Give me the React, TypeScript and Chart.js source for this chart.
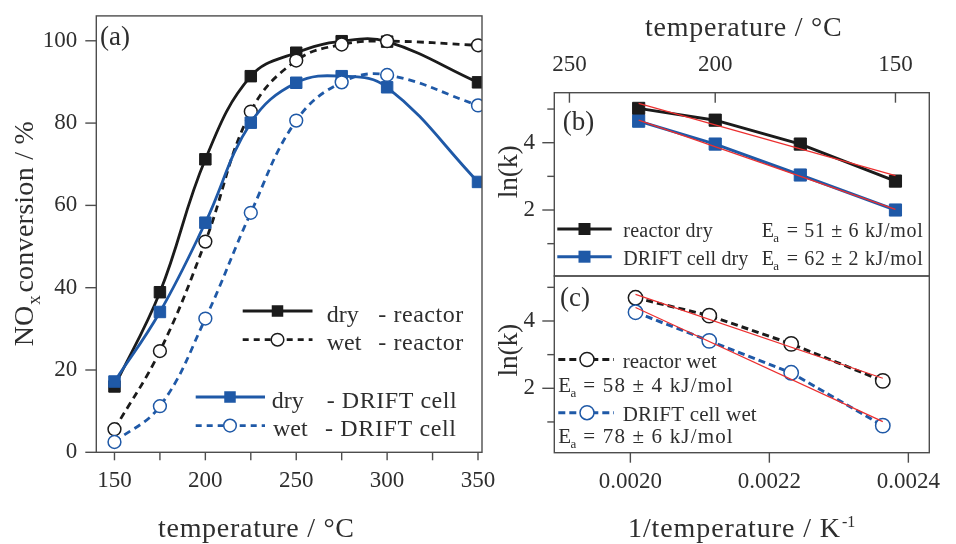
import React, { useEffect, useRef } from 'react';
import { Chart, registerables } from 'chart.js';

Chart.register(...registerables);

const FONT = '"Liberation Serif", "Times New Roman", serif';
const BLACK = '#1b1b1b';
const BLUE = '#1f59a7';
const RED = '#ec2f2f';
const AXIS = '#4d4d4d';
const TEXT = '#2e2e2e';

// ---------------- panel (a): NOx conversion vs temperature ----------------
const temperaturesA = [150, 175, 200, 225, 250, 275, 300, 350];
const dryReactor = [16.0, 38.9, 71.2, 91.4, 97.1, 99.9, 99.8, 89.9];
const wetReactor = [5.6, 24.6, 51.2, 82.8, 95.2, 99.1, 99.9, 98.9];
const dryDrift = [17.2, 34.1, 55.8, 80.1, 89.8, 91.4, 88.7, 65.7];
const wetDrift = [2.5, 11.2, 32.5, 58.2, 80.6, 89.9, 91.7, 84.3];
const xTicksA = [150, 175, 200, 225, 250, 275, 300, 325, 350];
const xLabelsA = [150, 200, 250, 300, 350];
const yTicksA = [0, 20, 40, 60, 80, 100];
const legendA = [
  ['dry', '- reactor'],
  ['wet', '- reactor'],
  ['dry', '- DRIFT cell'],
  ['wet', '- DRIFT cell'],
];

// ---------------- panels (b), (c): Arrhenius plots ----------------
const arrheniusTemps = [225, 200, 175, 150]; // °C
const lnkReactorDry = [5.02, 4.67, 3.96, 2.86];
const lnkDriftDry = [4.64, 3.96, 3.04, 2.0];
const lnkReactorWet = [4.69, 4.16, 3.32, 2.22];
const lnkDriftWet = [4.26, 3.41, 2.46, 0.89];
const fitTemps = [225, 150]; // °C, ends of the fitted lines
const fitReactorDry = [5.17, 3.02];
const fitDriftDry = [4.67, 2.02];
const fitReactorWet = [4.79, 2.3];
const fitDriftWet = [4.4, 1.01];
const topTempTicks = [250, 200, 150];
const invTempTicks = [0.002, 0.0022, 0.0024];
const lnkTicks = [1, 2, 3, 4, 5];
const lnkLabels = [2, 4];
const legendB = ['reactor dry', 'DRIFT cell dry'];
const eaB = ['= 51 ± 6 kJ/mol', '= 62 ± 2 kJ/mol'];
const legendC = ['reactor wet', 'DRIFT cell wet'];
const eaC = ['= 58 ± 4 kJ/mol', '= 78 ± 6 kJ/mol'];

// ---------------- layout ----------------
const W = 956;
const H = 544;
const A = { left: 96.3, right: 482, top: 15.9, bottom: 452.3 };
const R = { left: 554.3, right: 929.3, top: 92.7, mid: 276, bottom: 452.7 };

const invT = (c: number) => 1 / (c + 273.15);
type Pt = { x: number; y: number };
const pts = (xs: number[], ys: number[]): Pt[] => xs.map((x, i) => ({ x, y: ys[i] }));

function seg(ctx: CanvasRenderingContext2D, x1: number, y1: number, x2: number, y2: number) {
  ctx.beginPath();
  ctx.moveTo(x1, y1);
  ctx.lineTo(x2, y2);
  ctx.stroke();
}

function fitText(ctx: CanvasRenderingContext2D, text: string, x: number, y: number, size: number, width?: number) {
  ctx.font = `${size}px ${FONT}`;
  (ctx as any).letterSpacing = '0px';
  ctx.textAlign = 'left';
  ctx.textBaseline = 'alphabetic';
  if (width) {
    const w = ctx.measureText(text).width;
    const n = Array.from(text).length;
    let ls = (width - w) / Math.max(n - 1, 1);
    ls = Math.max(-1.5, Math.min(3, ls));
    (ctx as any).letterSpacing = `${ls}px`;
  }
  ctx.fillText(text, x, y);
  (ctx as any).letterSpacing = '0px';
}

function legendLine(
  ctx: CanvasRenderingContext2D,
  x1: number, x2: number, y: number, mx: number,
  color: string, marker: 'rect' | 'circle', dash: number[], size: number, lw = 3,
) {
  ctx.save();
  ctx.strokeStyle = color;
  ctx.lineWidth = lw;
  ctx.setLineDash(dash);
  seg(ctx, x1, y, x2, y);
  ctx.setLineDash([]);
  if (marker === 'rect') {
    ctx.fillStyle = color;
    ctx.fillRect(mx - size / 2, y - size / 2, size, size);
  } else {
    ctx.fillStyle = '#ffffff';
    ctx.lineWidth = 1.5;
    ctx.beginPath();
    ctx.arc(mx, y, size / 2, 0, Math.PI * 2);
    ctx.fill();
    ctx.stroke();
  }
  ctx.restore();
}

function lineDs(data: Pt[], o: { color: string; marker: 'rect' | 'circle'; r: number; dash?: number[]; order: number; tension?: number; width?: number }) {
  const filled = o.marker === 'rect';
  return {
    data,
    borderColor: o.color,
    backgroundColor: o.color,
    borderWidth: o.width ?? 3,
    borderDash: o.dash ?? [],
    tension: o.tension ?? 0,
    pointStyle: o.marker,
    pointRadius: o.r,
    pointHoverRadius: o.r,
    pointBackgroundColor: filled ? o.color : '#ffffff',
    pointBorderColor: o.color,
    pointBorderWidth: filled ? 1 : 1.5,
    order: o.order,
    clip: 0,
    fill: false,
  };
}

function fitDs(ys: number[]) {
  return {
    data: pts(fitTemps.map(invT), ys),
    borderColor: RED,
    borderWidth: 1.2,
    pointRadius: 0,
    tension: 0,
    order: 0,
    clip: 0,
    fill: false,
  };
}

const tickFont = { size: 23, family: FONT };

function configA(): any {
  return {
    type: 'line',
    data: {
      datasets: [
        lineDs(pts(temperaturesA, dryReactor), { color: BLACK, marker: 'rect', r: 8.1, order: 4, tension: 0.4, width: 2.8 }),
        lineDs(pts(temperaturesA, wetReactor), { color: BLACK, marker: 'circle', r: 6.4, dash: [7, 5], order: 3, tension: 0.4, width: 2.8 }),
        lineDs(pts(temperaturesA, dryDrift), { color: BLUE, marker: 'rect', r: 8.1, order: 2, tension: 0.4, width: 2.8 }),
        lineDs(pts(temperaturesA, wetDrift), { color: BLUE, marker: 'circle', r: 6.4, dash: [7, 5], order: 1, tension: 0.4, width: 2.8 }),
      ],
    },
    options: {
      responsive: false,
      animation: false,
      events: [],
      layout: { padding: { left: 0, top: A.top, right: W - A.right, bottom: 0 } },
      plugins: { legend: { display: false }, tooltip: { enabled: false } },
      scales: {
        x: {
          type: 'linear',
          position: 'bottom',
          min: 140.0,
          max: 352.2,
          grid: { display: false, drawTicks: false },
          border: { display: false },
          afterFit: (s: any) => { s.height = H - A.bottom; },
          afterBuildTicks: (s: any) => { s.ticks = xTicksA.map((v) => ({ value: v })); },
          ticks: {
            callback: (v: number) => (xLabelsA.includes(v) ? String(v) : ''),
            font: tickFont, color: TEXT, padding: 14.9, maxRotation: 0, autoSkip: false,
          },
        },
        y: {
          type: 'linear',
          min: 0,
          max: 101.94,
          grid: { display: false, drawTicks: false },
          border: { display: false },
          afterFit: (s: any) => { s.width = A.left; },
          afterBuildTicks: (s: any) => { s.ticks = yTicksA.map((v) => ({ value: v })); },
          ticks: { font: tickFont, color: TEXT, padding: 19, autoSkip: false },
        },
      },
    },
    plugins: [
      {
        id: 'decoA',
        afterDraw(chart: any) {
          const ctx: CanvasRenderingContext2D = chart.ctx;
          const xs = chart.scales.x;
          const ys = chart.scales.y;
          ctx.save();
          ctx.strokeStyle = AXIS;
          ctx.lineWidth = 1.4;
          ctx.strokeRect(A.left, A.top, A.right - A.left, A.bottom - A.top);
          for (const v of yTicksA) { const p = ys.getPixelForValue(v); seg(ctx, A.left - 11, p, A.left, p); }
          for (const v of xTicksA) { const p = xs.getPixelForValue(v); seg(ctx, p, A.bottom, p, A.bottom + 8); }
          ctx.fillStyle = TEXT;
          fitText(ctx, '(a)', 100, 45, 27);
          fitText(ctx, 'temperature / °C', 158, 537, 28, 196);
          ctx.save();
          ctx.translate(33, 346.3);
          ctx.rotate(-Math.PI / 2);
          fitText(ctx, 'NO', 0, 0, 28);
          fitText(ctx, 'x', 41.6, 7, 19);
          fitText(ctx, 'conversion / %', 53.7, 0, 28, 171.4);
          ctx.restore();
          // legend
          const rows = [
            { y: 311, x1: 242.7, x2: 312.5, mx: 277.5, c: BLACK, m: 'rect', d: [], t1: 326.7, t2: 378.3, w2: 85 },
            { y: 339.7, x1: 242.7, x2: 312.5, mx: 277.5, c: BLACK, m: 'circle', d: [6, 5], t1: 326.7, t2: 378.3, w2: 85 },
            { y: 397, x1: 195.7, x2: 265, mx: 230, c: BLUE, m: 'rect', d: [], t1: 271.7, t2: 326.7, w2: 130 },
            { y: 425.6, x1: 195.7, x2: 265, mx: 230, c: BLUE, m: 'circle', d: [6, 5], t1: 273, t2: 325, w2: 131 },
          ];
          rows.forEach((r, i) => {
            legendLine(ctx, r.x1, r.x2, r.y, r.mx, r.c, r.m as any, r.d, r.m === 'rect' ? 11.5 : 12.6, 2.8);
            ctx.fillStyle = TEXT;
            fitText(ctx, legendA[i][0], r.t1, r.y + 10.5, 24);
            fitText(ctx, legendA[i][1], r.t2, r.y + 10.5, 24, r.w2);
          });
          ctx.restore();
        },
      },
    ],
  };
}

function yArrhenius(min: number, max: number) {
  return {
    type: 'linear',
    min,
    max,
    grid: { display: false, drawTicks: false },
    border: { display: false },
    afterFit: (s: any) => { s.width = R.left; },
    afterBuildTicks: (s: any) => { s.ticks = lnkTicks.map((v) => ({ value: v })); },
    ticks: {
      callback: (v: number) => (lnkLabels.includes(v) ? String(v) : ''),
      font: tickFont, color: TEXT, padding: 19.3, autoSkip: false,
    },
  };
}

const X_MIN_R = 0.00189054;
const X_MAX_R = 0.00241011;

function drawYTicksR(ctx: CanvasRenderingContext2D, ys: any) {
  for (const v of lnkTicks) {
    const p = ys.getPixelForValue(v);
    const len = lnkLabels.includes(v) ? 12 : 7;
    seg(ctx, R.left - len, p, R.left, p);
  }
}

function configB(): any {
  const xs = arrheniusTemps.map(invT);
  return {
    type: 'line',
    data: {
      datasets: [
        lineDs(pts(xs, lnkReactorDry), { color: BLACK, marker: 'rect', r: 8.6, order: 2 }),
        lineDs(pts(xs, lnkDriftDry), { color: BLUE, marker: 'rect', r: 8.6, order: 1 }),
        fitDs(fitReactorDry),
        fitDs(fitDriftDry),
      ],
    },
    options: {
      responsive: false,
      animation: false,
      events: [],
      layout: { padding: { left: 0, top: 0, right: W - R.right, bottom: H - R.mid } },
      plugins: { legend: { display: false }, tooltip: { enabled: false } },
      scales: {
        x: {
          type: 'linear',
          position: 'top',
          min: X_MIN_R,
          max: X_MAX_R,
          grid: { display: false, drawTicks: false },
          border: { display: false },
          afterFit: (s: any) => { s.height = R.top; },
          afterBuildTicks: (s: any) => { s.ticks = topTempTicks.map((t) => ({ value: invT(t) })); },
          ticks: {
            callback: (v: number) => String(Math.round(1 / v - 273.15)),
            font: tickFont, color: TEXT, padding: 14.2, maxRotation: 0, autoSkip: false,
          },
        },
        y: yArrhenius(0.039, 5.486),
      },
    },
    plugins: [
      {
        id: 'decoB',
        afterDraw(chart: any) {
          const ctx: CanvasRenderingContext2D = chart.ctx;
          const xsc = chart.scales.x;
          const ys = chart.scales.y;
          ctx.save();
          ctx.strokeStyle = AXIS;
          ctx.lineWidth = 1.4;
          ctx.strokeRect(R.left, R.top, R.right - R.left, R.mid - R.top);
          for (const t of topTempTicks) { const p = xsc.getPixelForValue(invT(t)); seg(ctx, p, R.top, p, R.top + 10); }
          drawYTicksR(ctx, ys);
          ctx.fillStyle = TEXT;
          fitText(ctx, '(b)', 562.7, 130, 27);
          fitText(ctx, 'temperature / °C', 645, 35.5, 28, 196.7);
          ctx.save();
          ctx.translate(517, 198.3);
          ctx.rotate(-Math.PI / 2);
          fitText(ctx, 'ln(k)', 0, 0, 28, 53);
          ctx.restore();
          const rows = [
            { y: 229, c: BLACK },
            { y: 256.7, c: BLUE },
          ];
          rows.forEach((r, i) => {
            legendLine(ctx, 557.3, 611.7, r.y, 584.5, r.c, 'rect', [], 12, 3);
            ctx.fillStyle = TEXT;
            fitText(ctx, legendB[i], 623.3, r.y + 8, 20, i === 0 ? 89.4 : 125);
            fitText(ctx, 'E', 761.7, r.y + 8, 20);
            fitText(ctx, 'a', 773.3, r.y + 13, 13);
            fitText(ctx, eaB[i], 786.7, r.y + 8, 20, 136);
          });
          ctx.restore();
        },
      },
    ],
  };
}

function configC(): any {
  const xs = arrheniusTemps.map(invT);
  return {
    type: 'line',
    data: {
      datasets: [
        lineDs(pts(xs, lnkReactorWet), { color: BLACK, marker: 'circle', r: 7.2, dash: [7, 4], order: 2 }),
        lineDs(pts(xs, lnkDriftWet), { color: BLUE, marker: 'circle', r: 7.2, dash: [7, 4], order: 1 }),
        fitDs(fitReactorWet),
        fitDs(fitDriftWet),
      ],
    },
    options: {
      responsive: false,
      animation: false,
      events: [],
      layout: { padding: { left: 0, top: R.mid, right: W - R.right, bottom: 0 } },
      plugins: { legend: { display: false }, tooltip: { enabled: false } },
      scales: {
        x: {
          type: 'linear',
          position: 'bottom',
          min: X_MIN_R,
          max: X_MAX_R,
          grid: { display: false, drawTicks: false },
          border: { display: false },
          afterFit: (s: any) => { s.height = H - R.bottom; },
          afterBuildTicks: (s: any) => { s.ticks = invTempTicks.map((v) => ({ value: v })); },
          ticks: {
            callback: (v: number) => v.toFixed(4),
            font: tickFont, color: TEXT, padding: 15.5, maxRotation: 0, autoSkip: false,
          },
        },
        y: yArrhenius(0.086, 5.337),
      },
    },
    plugins: [
      {
        id: 'decoC',
        afterDraw(chart: any) {
          const ctx: CanvasRenderingContext2D = chart.ctx;
          const xsc = chart.scales.x;
          const ys = chart.scales.y;
          ctx.save();
          ctx.strokeStyle = AXIS;
          ctx.lineWidth = 1.4;
          ctx.strokeRect(R.left, R.mid, R.right - R.left, R.bottom - R.mid);
          for (const v of invTempTicks) { const p = xsc.getPixelForValue(v); seg(ctx, p, R.bottom, p, R.bottom + 10); }
          drawYTicksR(ctx, ys);
          ctx.fillStyle = TEXT;
          fitText(ctx, '(c)', 560, 306, 27);
          fitText(ctx, '1/temperature / K', 628, 537, 28, 212);
          fitText(ctx, '-1', 842, 527, 16);
          ctx.save();
          ctx.translate(517, 376.6);
          ctx.rotate(-Math.PI / 2);
          fitText(ctx, 'ln(k)', 0, 0, 28, 53);
          ctx.restore();
          const rows = [
            { y: 359.5, c: BLACK, ey: 391.7, w: 94 },
            { y: 412.7, c: BLUE, ey: 443.3, w: 134 },
          ];
          rows.forEach((r, i) => {
            legendLine(ctx, 558.3, 614, r.y, 587, r.c, 'circle', [7, 4], 14, 3);
            ctx.fillStyle = TEXT;
            fitText(ctx, legendC[i], 622.7, r.y + 8, 21, r.w);
            fitText(ctx, 'E', 558.3, r.ey, 21);
            fitText(ctx, 'a', 570.5, r.ey + 5, 13);
            fitText(ctx, eaC[i], 583.3, r.ey, 21, 149.4);
          });
          ctx.restore();
        },
      },
    ],
  };
}

export default function App() {
  const refA = useRef<HTMLCanvasElement>(null);
  const refB = useRef<HTMLCanvasElement>(null);
  const refC = useRef<HTMLCanvasElement>(null);

  useEffect(() => {
    Chart.defaults.font.family = FONT;
    const charts = [
      new Chart(refA.current as HTMLCanvasElement, configA()),
      new Chart(refB.current as HTMLCanvasElement, configB()),
      new Chart(refC.current as HTMLCanvasElement, configC()),
    ];
    return () => charts.forEach((c) => c.destroy());
  }, []);

  const cs: React.CSSProperties = { position: 'absolute', left: 0, top: 0, width: W, height: H };
  return (
    <div style={{ position: 'absolute', left: 0, top: 0, width: W, height: H, background: '#ffffff', overflow: 'hidden' }}>
      <canvas ref={refA} width={W} height={H} style={cs} />
      <canvas ref={refB} width={W} height={H} style={cs} />
      <canvas ref={refC} width={W} height={H} style={cs} />
    </div>
  );
}
